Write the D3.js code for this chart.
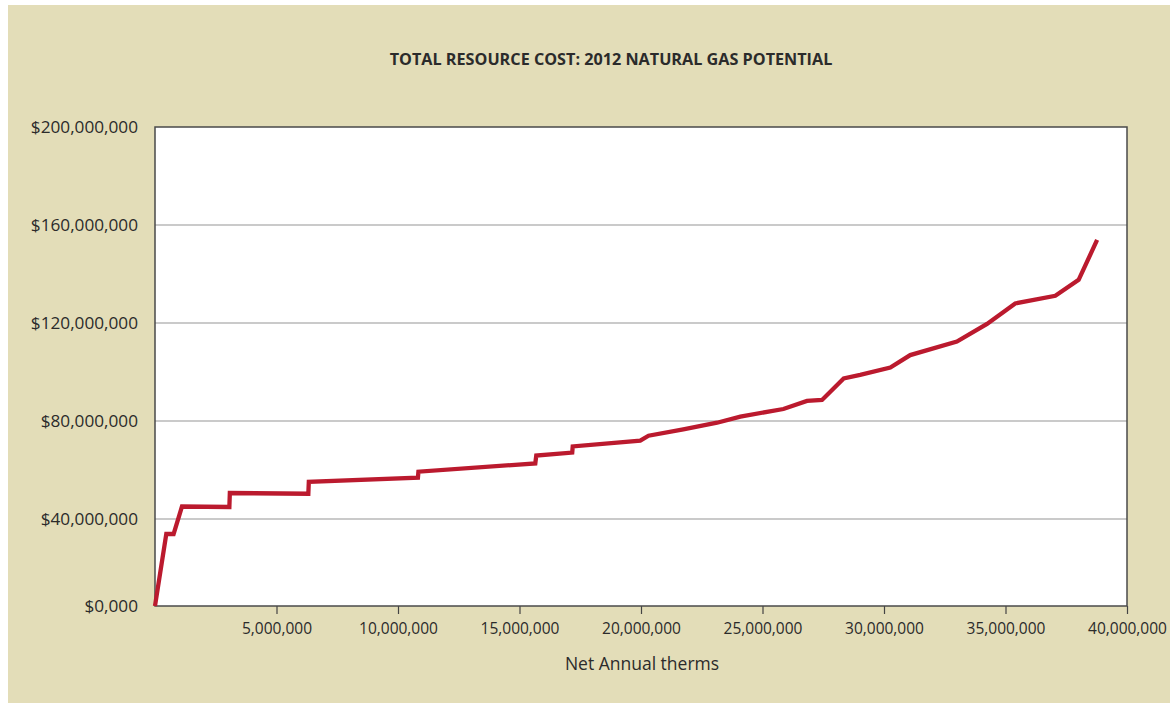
<!DOCTYPE html>
<html lang="en">
<head>
    <meta charset="UTF-8">
    <title>Total Resource Cost</title>
    <style>
        body { margin: 0; background: #fff; }
        text { font-family: "Open Sans", "DejaVu Sans", sans-serif; fill: #2b2b2b; }
    </style>
</head>
<body>
<script src="https://d3js.org/d3.v7.min.js"></script>
<script>
    // net annual therms (x) and total resource cost in $ (y)
    const therms = [0, 465000, 765000, 1110000, 3060000, 3080000, 6310000, 6330000,
        10820000, 10840000, 15650000, 15690000, 17170000, 17190000, 19970000, 20310000,
        21740000, 23130000, 24090000, 25860000, 26830000, 27450000, 28340000, 29020000,
        30260000, 31080000, 33000000, 34240000, 35400000, 37050000, 38010000, 38770000];
    const cost = [0, 33100000, 33100000, 45100000, 44900000, 50600000, 50300000, 55200000,
        56900000, 59300000, 62700000, 65900000, 67100000, 69600000, 72000000, 74000000,
        76600000, 79300000, 81800000, 84900000, 88200000, 88600000, 97400000, 98800000,
        101800000, 106900000, 112400000, 119600000, 128000000, 131100000, 137600000, 153900000];

    const yTicks = [0, 40000000, 80000000, 120000000, 160000000, 200000000];
    const xTicks = [5000000, 10000000, 15000000, 20000000, 25000000, 30000000, 35000000, 40000000];

    const title = "TOTAL RESOURCE COST: 2012 NATURAL GAS POTENTIAL";
    const xTitle = "Net Annual therms";

    const data = therms.map((t, i) => ({x: t, y: cost[i]}));

    const width = 1170, height = 703;
    const margin = {left: 155, top: 127, right: 43, bottom: 97};
    const w = width - margin.left - margin.right;
    const h = height - margin.top - margin.bottom;

    const svg = d3.select("body").append("svg")
        .attr("width", width)
        .attr("height", height);

    svg.append("rect")
        .attr("x", 8).attr("y", 5)
        .attr("width", width - 8).attr("height", height - 5)
        .attr("fill", "#e3ddb8");

    svg.append("text")
        .attr("x", 611).attr("y", 59)
        .attr("text-anchor", "middle")
        .attr("dominant-baseline", "central")
        .attr("font-size", 16.2)
        .attr("font-weight", 700)
        .text(title);

    const g = svg.append("g")
        .attr("transform", `translate(${margin.left},${margin.top})`);

    g.append("rect")
        .attr("width", w).attr("height", h)
        .attr("fill", "#fff");

    const x = d3.scaleLinear().domain([0, 40000000]).range([0, w]);
    // the original's $0 to $40M band is drawn shorter than the others
    const y = d3.scaleLinear().domain([0, 40000000, 200000000]).range([h, 392, 0]);

    // gridlines
    g.append("g")
        .selectAll("line")
        .data(yTicks.filter(d => d > 0 && d < 200000000))
        .join("line")
        .attr("x1", 0).attr("x2", w)
        .attr("y1", d => y(d)).attr("y2", d => y(d))
        .attr("stroke", "#b9b9b9")
        .attr("stroke-width", 1.5);

    // y labels
    const yAxis = g.append("g")
        .call(d3.axisLeft(y)
            .tickValues(yTicks)
            .tickSize(0)
            .tickPadding(17)
            .tickFormat(d => d === 0 ? "$0,000" : "$" + d3.format(",")(d)));
    yAxis.select(".domain").remove();
    yAxis.selectAll("text")
        .attr("font-size", 17.2)
        .attr("font-family", null)
        .attr("fill", "#2b2b2b")
        .attr("dy", "0.32em");

    // x axis
    const xAxis = g.append("g")
        .attr("transform", `translate(0,${h})`)
        .call(d3.axisBottom(x)
            .tickValues(xTicks)
            .tickSize(8)
            .tickPadding(9)
            .tickFormat(d3.format(",")));
    xAxis.select(".domain").remove();
    xAxis.selectAll("line").attr("stroke", "#444").attr("stroke-width", 1.2);
    xAxis.selectAll("text")
        .attr("font-size", 15.5)
        .attr("font-family", null)
        .attr("fill", "#2b2b2b");

    // frame
    g.append("rect")
        .attr("width", w).attr("height", h)
        .attr("fill", "none")
        .attr("stroke", "#4a4a4a")
        .attr("stroke-width", 1.5);

    g.append("path")
        .datum(data)
        .attr("fill", "none")
        .attr("stroke", "#bb1a2e")
        .attr("stroke-width", 4.3)
        .attr("stroke-linejoin", "miter")
        .attr("d", d3.line()
            .x(d => x(d.x))
            .y(d => y(d.y)));

    svg.append("text")
        .attr("x", 642).attr("y", 663)
        .attr("text-anchor", "middle")
        .attr("dominant-baseline", "central")
        .attr("font-size", 17.5)
        .text(xTitle);
</script>
</body>
</html>
